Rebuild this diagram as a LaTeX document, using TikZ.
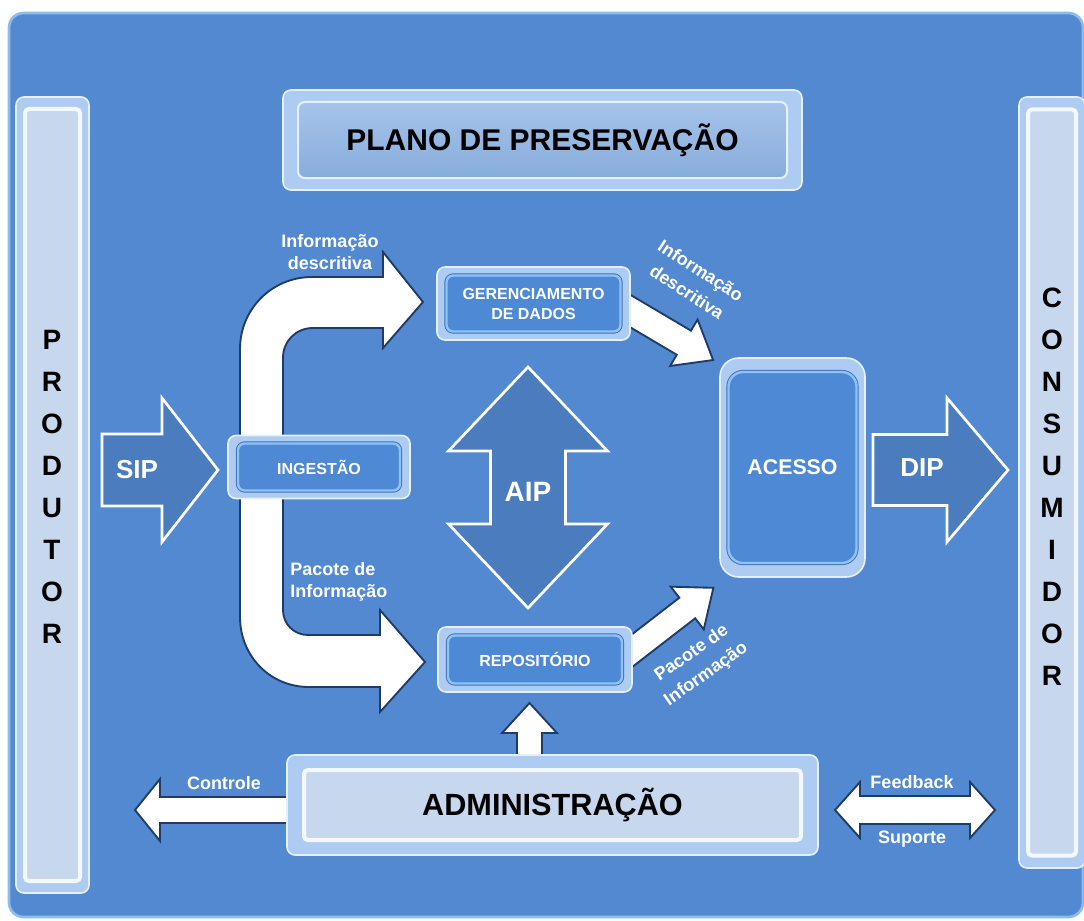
\documentclass[tikz,border=0pt]{standalone}
\usepackage{fontspec}
\setmainfont{Liberation Sans}
\usetikzlibrary{calc}

\definecolor{pagebg}{HTML}{5389D0}
\definecolor{pagerim}{HTML}{8CBCEE}
\definecolor{rim}{HTML}{AECCF1}
\definecolor{rimedge}{HTML}{E4F0FC}
\definecolor{glassblue}{HTML}{4E89D6}
\definecolor{glassglow}{HTML}{8FC2F6}
\definecolor{glassedge}{HTML}{3D70B8}
\definecolor{paleface}{HTML}{C7D7EE}
\definecolor{paleband}{HTML}{F3F8FE}
\definecolor{planoface}{HTML}{8FB5E6}
\definecolor{darkarrow}{HTML}{4A7CBE}
\definecolor{arrowline}{HTML}{1F3C66}

% pixel-like length helper
\newcommand\pxl[1]{#1*0.75pt}

% straight block arrow: style, tail point, angle, length, shaft half width, head half width, head length
\newcommand\blockarrow[7]{%
  \draw[#1, shift={#2}, rotate=#3]
    (0,-#5) -- ({#4-#7},-#5) -- ({#4-#7},-#6) -- (#4,0)
    -- ({#4-#7},#6) -- ({#4-#7},#5) -- (0,#5) -- cycle;}
% two-headed block arrow: style, first tip, angle, length, shaft half width, head half width, head length
\newcommand\twinarrow[7]{%
  \draw[#1, shift={#2}, rotate=#3]
    (0,0) -- (#7,-#6) -- (#7,-#5) -- ({#4-#7},-#5) -- ({#4-#7},-#6) -- (#4,0)
    -- ({#4-#7},#6) -- ({#4-#7},#5) -- (#7,#5) -- (#7,#6) -- cycle;}

\tikzset{
  pagepanel/.style={fill=pagebg, draw=pagerim, line width=2pt, rounded corners=11pt},
  rimbox/.style={draw=rimedge, line width=1.2pt, fill=rim, rounded corners=6pt, inner sep=0pt},
  bluebox/.style={fill=glassblue, draw=glassglow, line width=1.8pt, rounded corners=5pt,
    preaction={draw=glassedge, line width=3.2pt}, text=white, align=center, inner sep=0pt,
    font=\bfseries\fontsize{12}{15}\selectfont},
  palebox/.style={fill=paleface, draw=paleband, line width=3pt, rounded corners=3pt, inner sep=0pt},
  planobox/.style={top color=planoface!80!white, bottom color=planoface!95!black, draw=rimedge,
    line width=1.5pt, rounded corners=5pt, inner sep=0pt},
  darkblock/.style={fill=darkarrow, draw=white, line width=2pt, line join=miter},
  whiteblock/.style={fill=white, draw=arrowline, line width=1.4pt, line join=miter},
  bigletters/.style={text=black, align=center, inner sep=0pt, font=\bfseries\fontsize{21}{31.5}\selectfont},
  caption/.style={text=white, align=center, inner sep=0pt, font=\bfseries\fontsize{13.5}{16.5}\selectfont},
  slantcaption/.style={caption, font=\bfseries\fontsize{13.5}{19}\selectfont},
  blocklabel/.style={text=white, inner sep=0pt, font=\bfseries\fontsize{19.5}{22}\selectfont},
}

\begin{document}
\begin{tikzpicture}[x=0.75pt,y=-0.75pt]
\useasboundingbox (0,0) rectangle (1084,920);
\fill[white] (0,0) rectangle (1084,920);
\draw[pagepanel] (9,13) rectangle (1083,917);

% side bars: producer and consumer
\node[rimbox, minimum width=\pxl{73}, minimum height=\pxl{796}] (prodrim) at (52.5,495) {};
\node[palebox, minimum width=\pxl{55}, minimum height=\pxl{772}] (prod) at (52.5,495) {};
\node[bigletters] (prodtxt) at (52,486.5) {P\\R\\O\\D\\U\\T\\O\\R};

\node[rimbox, minimum width=\pxl{66}, minimum height=\pxl{771}] (consrim) at (1052,482.5) {};
\node[palebox, minimum width=\pxl{48}, minimum height=\pxl{746}] (cons) at (1052,482.5) {};
\node[bigletters] (constxt) at (1052,487) {C\\O\\N\\S\\U\\M\\I\\D\\O\\R};

% preservation plan banner
\node[rimbox, minimum width=\pxl{519}, minimum height=\pxl{100}] (planorim) at (542.5,140) {};
\node[planobox, minimum width=\pxl{489}, minimum height=\pxl{76}, text=black,
      font=\bfseries\fontsize{22.5}{26}\selectfont] (plano) at (542.5,140) {PLANO DE PRESERVAÇÃO};

% bent arrows leaving ingest, towards data management and storage
\draw[whiteblock] (423,302) -- (383,252) -- (383,277) -- (312,277)
  .. controls (272,277) and (240,309) .. (240,349) -- (240,617)
  .. controls (240,656) and (270,687) .. (309,687) -- (380,687) -- (380,712) -- (425,662)
  -- (380,610) -- (380,635) -- (308,635) .. controls (294,635) and (283,624) .. (283,610)
  -- (283,358) .. controls (283,341) and (296,328) .. (313,328) -- (383,328) -- (383,348) -- cycle;

% arrows towards access, to the administration side, and feedback
\blockarrow{whiteblock}{(615,302)}{-30.6}{114}{14}{27}{34}
\blockarrow{whiteblock}{(620,660)}{37.7}{118}{13}{27}{33}
\blockarrow{whiteblock}{(529.5,757)}{90}{54}{12.5}{27.5}{30}
\blockarrow{whiteblock}{(289,810)}{180}{154}{13}{31}{25}
\twinarrow{whiteblock}{(835,810)}{0}{160}{14}{28}{25}

% package flow arrows
\blockarrow{darkblock}{(102,470)}{0}{116}{36}{72}{56}
\blockarrow{darkblock}{(873,470)}{0}{135}{35.5}{72}{61}
\twinarrow{darkblock}{(528,367)}{-90}{241}{37.5}{79.5}{84}
\node[blocklabel] (sip) at (137,470) {SIP};
\node[blocklabel] (dip) at (922,468) {DIP};
\node[blocklabel, font=\bfseries\fontsize{21}{24}\selectfont] (aip) at (528,492) {AIP};

% functional entities
\node[rimbox, minimum width=\pxl{182}, minimum height=\pxl{63}] (ingrim) at (319,467) {};
\node[bluebox, minimum width=\pxl{162}, minimum height=\pxl{47}] (ing) at (319,467) {INGESTÃO};

\node[rimbox, minimum width=\pxl{193}, minimum height=\pxl{73}] (gerrim) at (533.5,303.5) {};
\node[bluebox, minimum width=\pxl{174}, minimum height=\pxl{56}] (ger) at (533.5,303.5) {GERENCIAMENTO\\DE DADOS};

\node[rimbox, minimum width=\pxl{194}, minimum height=\pxl{65}] (reprim) at (535,659.5) {};
\node[bluebox, minimum width=\pxl{174}, minimum height=\pxl{48}] (rep) at (535,659.5) {REPOSITÓRIO};

\node[rimbox, rounded corners=14pt, minimum width=\pxl{145}, minimum height=\pxl{219}] (acerim) at (792.5,467.5) {};
\node[bluebox, rounded corners=11pt, minimum width=\pxl{128}, minimum height=\pxl{191},
      font=\bfseries\fontsize{16}{18}\selectfont] (ace) at (792.5,467.5) {ACESSO};

\node[rimbox, minimum width=\pxl{531}, minimum height=\pxl{100}] (admrim) at (552.5,805) {};
\node[palebox, minimum width=\pxl{497}, minimum height=\pxl{70}, text=black,
      font=\bfseries\fontsize{23}{26}\selectfont] (adm) at (552.5,805) {ADMINISTRAÇÃO};

% flow captions
\node[caption] (infodesc1) at (330,252) {Informação\\descritiva};
\node[caption, align=left, anchor=west] (pacote1) at (290,582) {Pacote de\\Informação};
\node[slantcaption, rotate=-33] (infodesc2) at (694,281) {Informação\\descritiva};
\node[slantcaption, rotate=35] (pacote2) at (699,664) {Pacote de\\Informação};
\node[caption] (controle) at (224,783) {Controle};
\node[caption] (feedback) at (912,782) {Feedback};
\node[caption] (suporte) at (912,839) {Suporte};
\end{tikzpicture}
\end{document}
